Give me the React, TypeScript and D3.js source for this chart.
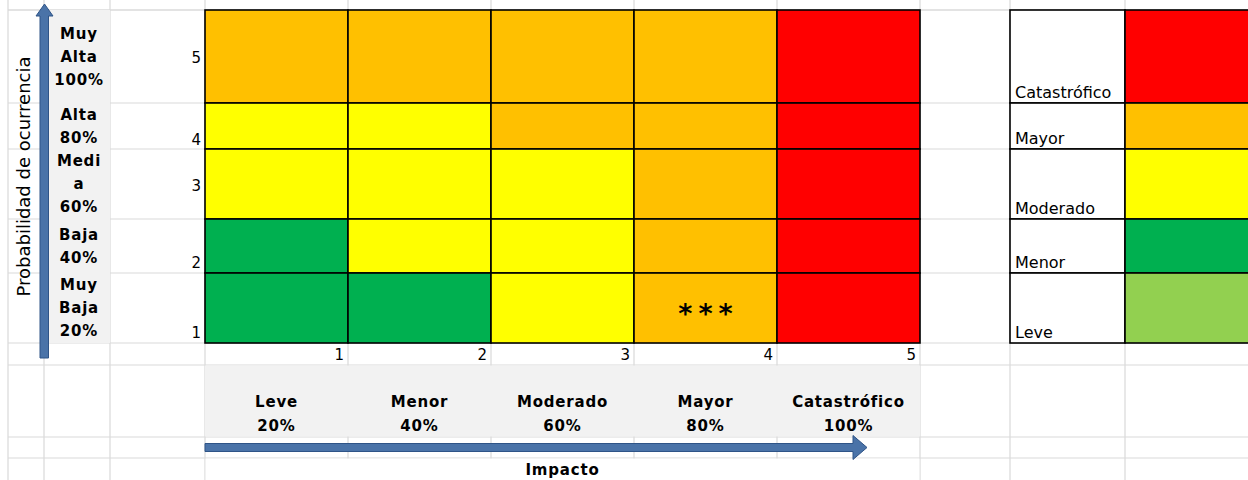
import * as d3 from 'd3'

// impact axis (columns, left -> right)
const impactLevels = [1, 2, 3, 4, 5]
const impactNames = ['Leve', 'Menor', 'Moderado', 'Mayor', 'Catastrófico']
const impactPcts = ['20%', '40%', '60%', '80%', '100%']

// probability axis (rows, top -> bottom)
const probLevels = [5, 4, 3, 2, 1]
const probLabels = [
  ['Muy', 'Alta', '100%'],
  ['Alta', '80%'],
  ['Medi', 'a', '60%'],
  ['Baja', '40%'],
  ['Muy', 'Baja', '20%'],
]

// risk level of each cell, rows follow probLevels, columns follow impactLevels
const riskGrid = [
  ['Mayor', 'Mayor', 'Mayor', 'Mayor', 'Catastrófico'],
  ['Moderado', 'Moderado', 'Mayor', 'Mayor', 'Catastrófico'],
  ['Moderado', 'Moderado', 'Moderado', 'Mayor', 'Catastrófico'],
  ['Menor', 'Moderado', 'Moderado', 'Mayor', 'Catastrófico'],
  ['Menor', 'Menor', 'Moderado', 'Mayor', 'Catastrófico'],
]

// legend
const legendLevels = ['Catastrófico', 'Mayor', 'Moderado', 'Menor', 'Leve']
const legendColors = ['#ff0000', '#ffc000', '#ffff00', '#00b050', '#92d050']

// marked cell
const markImpact = 4
const markProb = 1
const markText = '***'

// spreadsheet layout (row heights in px, how far the row number sits above the row bottom)
const rowHeights = [93, 46, 70, 54, 70]
const rowNumberLift = [40, 4, 28, 5, 5]

const W = 1248
const H = 480
const GRID = '#d9d9d9'
const ARROW = '#4a73a8'
const ARROW_EDGE = '#2f5487'
const BOLD = '"DejaVu Sans", Verdana, sans-serif'

export default function App() {
  const top = 10
  const left = 205
  const right = 920

  const rowTops = probLevels.map((_, i) => top + (d3.sum(rowHeights.slice(0, i)) ?? 0))
  const y = d3.scaleOrdinal<number, number>().domain(probLevels).range(rowTops)
  const h = d3.scaleOrdinal<number, number>().domain(probLevels).range(rowHeights)
  const bottom = top + d3.sum(rowHeights)

  const x = d3.scaleBand<number>().domain(impactLevels).range([left, right])
  const color = d3.scaleOrdinal<string, string>().domain(legendLevels).range(legendColors)

  const numRowBottom = bottom + 22
  const headBottom = numRowBottom + 72
  const arrowBottom = headBottom + 21

  const vLines = [8, 44, 110, ...impactLevels.map((d) => x(d)!), right, 1010, 1125]
  const hLines = [top, ...rowTops, bottom, numRowBottom, headBottom, arrowBottom]

  const legX = 1010
  const legMid = 1125
  const arrowY = (headBottom + arrowBottom) / 2

  return (
    <svg
      width={W}
      height={H}
      style={{ position: 'absolute', left: 0, top: 0, background: '#fff' }}
    >
      {/* spreadsheet gridlines */}
      <g stroke={GRID} strokeWidth={1.2}>
        {vLines.map((v, i) => (
          <line key={'v' + i} x1={v} x2={v} y1={0} y2={H} />
        ))}
        {hLines.map((v, i) => (
          <line key={'h' + i} x1={8} x2={W} y1={v} y2={v} />
        ))}
      </g>

      {/* gray header column + gray header row */}
      <rect x={48} y={top} width={110 - 48} height={bottom - top} fill="#f2f2f2" />
      <rect x={left} y={numRowBottom + 0.5} width={right - left} height={headBottom - numRowBottom - 1} fill="#f2f2f2" />
      <rect x={left + 0.6} y={arrowBottom + 0.6} width={right - left - 1.2} height={H - arrowBottom} fill="#fff" />

      {/* probability labels */}
      {probLevels.map((p, i) => {
        const lines = probLabels[i]
        const cy = y(p) + h(p) / 2
        return (
          <text
            key={'pl' + p}
            fontFamily={BOLD}
            fontWeight="bold"
            fontSize={15}
            letterSpacing={0.8}
            textAnchor="middle"
            fill="#000"
          >
            {lines.map((t, j) => (
              <tspan key={j} x={79} y={cy + (j - (lines.length - 1) / 2) * 23} dominantBaseline="central">
                {t}
              </tspan>
            ))}
          </text>
        )
      })}

      {/* row numbers */}
      {probLevels.map((p, i) => (
        <text
          key={'rn' + p}
          x={201}
          y={y(p) + h(p) - rowNumberLift[i]}
          textAnchor="end"
          fontFamily={BOLD}
          fontSize={15}
          fill="#000"
        >
          {p}
        </text>
      ))}

      {/* matrix cells */}
      <g stroke="#000" strokeWidth={1.6}>
        {probLevels.map((p, i) =>
          impactLevels.map((c, j) => (
            <rect
              key={p + '-' + c}
              x={x(c)}
              y={y(p)}
              width={x.bandwidth()}
              height={h(p)}
              fill={color(riskGrid[i][j])}
            />
          ))
        )}
      </g>
      <text
        x={x(markImpact)! + x.bandwidth() / 2 + 3}
        y={y(markProb) + h(markProb) / 2 + 15}
        textAnchor="middle"
        fontFamily={BOLD}
        fontWeight="bold"
        fontSize={27}
        letterSpacing={6}
        fill="#000"
      >
        {markText}
      </text>

      {/* column numbers */}
      {impactLevels.map((c) => (
        <text
          key={'cn' + c}
          x={x(c)! + x.bandwidth() - 4}
          y={numRowBottom - 5}
          textAnchor="end"
          fontFamily={BOLD}
          fontSize={15}
          fill="#000"
        >
          {c}
        </text>
      ))}

      {/* impact labels */}
      {impactLevels.map((c, i) => (
        <text
          key={'il' + c}
          fontFamily={BOLD}
          fontWeight="bold"
          fontSize={15}
          letterSpacing={0.8}
          textAnchor="middle"
          fill="#000"
        >
          <tspan x={x(c)! + x.bandwidth() / 2} y={numRowBottom + 37} dominantBaseline="central">
            {impactNames[i]}
          </tspan>
          <tspan x={x(c)! + x.bandwidth() / 2} y={numRowBottom + 61} dominantBaseline="central">
            {impactPcts[i]}
          </tspan>
        </text>
      ))}

      {/* axis arrows */}
      <path
        d={`M40,${bottom + 15} L40,16 L36,16 L44.5,4 L53,16 L48.5,16 L48.5,${bottom + 15} Z`}
        fill={ARROW}
        stroke={ARROW_EDGE}
        strokeWidth={1}
      />
      <path
        d={`M${left},${arrowY - 4} L853,${arrowY - 4} L853,${arrowY - 12} L867,${arrowY} L853,${arrowY + 12} L853,${arrowY + 4} L${left},${arrowY + 4} Z`}
        fill={ARROW}
        stroke={ARROW_EDGE}
        strokeWidth={1}
      />

      {/* axis titles */}
      <text
        transform={`translate(30,${(top + bottom) / 2}) rotate(-90)`}
        textAnchor="middle"
        fontFamily={BOLD}
        fontSize={18}
        fill="#000"
      >
        Probabilidad de ocurrencia
      </text>
      <text
        x={(left + right) / 2}
        y={(arrowBottom + H) / 2 + 1}
        dominantBaseline="central"
        textAnchor="middle"
        fontFamily={BOLD}
        fontWeight="bold"
        fontSize={15}
        letterSpacing={0.8}
        fill="#000"
      >
        Impacto
      </text>

      {/* legend */}
      <g stroke="#000" strokeWidth={1.6}>
        {legendLevels.map((l, i) => {
          const p = probLevels[i]
          return (
            <g key={'lg' + l}>
              <rect x={legX} y={y(p)} width={legMid - legX} height={h(p)} fill="#fff" />
              <rect x={legMid} y={y(p)} width={W - legMid + 4} height={h(p)} fill={color(l)} />
            </g>
          )
        })}
      </g>
      {legendLevels.map((l, i) => {
        const p = probLevels[i]
        return (
          <text
            key={'lt' + l}
            x={legX + 5}
            y={y(p) + h(p) - 5}
            fontFamily={BOLD}
            fontSize={16}
            fill="#000"
          >
            {l}
          </text>
        )
      })}
    </svg>
  )
}
